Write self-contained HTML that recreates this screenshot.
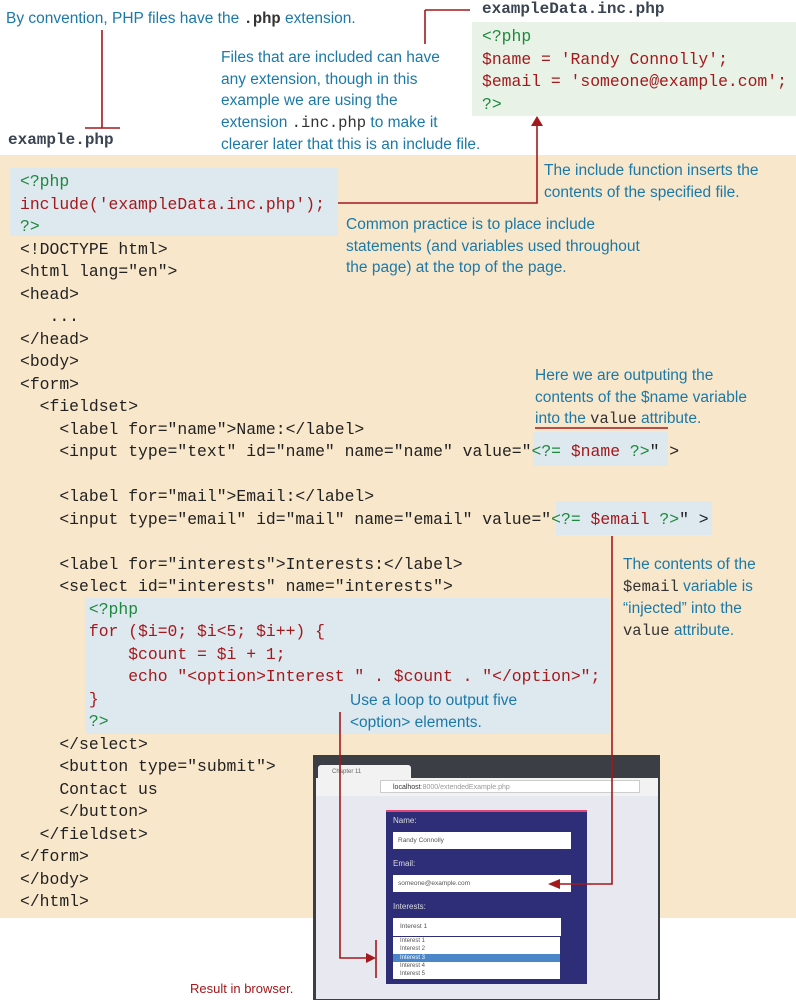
<!DOCTYPE html>
<html><head><meta charset="utf-8"><style>
body{margin:0;width:796px;height:1000px;position:relative;background:#fff;overflow:hidden;font-family:"Liberation Sans",sans-serif}
.a{position:absolute}
.t{position:absolute;color:#1b79a8;font-size:15.5px;line-height:21.5px}
.m{font-family:"Liberation Mono",monospace;color:#333}
pre{margin:0;font-family:"Liberation Mono",monospace;font-size:16.4px;line-height:22.5px;color:#222}
.r{color:#a3191c}.g{color:#1c8a3c}
</style></head><body>
<div class="a" style="left:0;top:155px;width:796px;height:763px;background:#f8e7cb"></div>
<div class="a" style="left:10px;top:168px;width:328px;height:68px;background:#dde8ef"></div>
<div class="a" style="left:533px;top:432px;width:135px;height:34px;background:#dde8ef"></div>
<div class="a" style="left:556px;top:501px;width:156px;height:34px;background:#dde8ef"></div>
<div class="a" style="left:85px;top:598px;width:525px;height:136px;background:#dde8ef"></div>
<div class="a" style="left:472px;top:22px;width:324px;height:94px;background:#e8f2e6"></div>

<div class="t" style="left:6px;top:8px">By convention, PHP files have the <span class="m" style="font-weight:bold">.php</span> extension.</div>
<div class="a m" style="left:8px;top:131px;font-size:16px;font-weight:bold;color:#3a4452">example.php</div>
<div class="a m" style="left:482px;top:0px;font-size:16px;font-weight:bold;color:#3a4452">exampleData.inc.php</div>
<div class="t" style="left:221px;top:47px">Files that are included can have<br>any extension, though in this<br>example we are using the<br>extension <span class="m">.inc.php</span> to make it<br>clearer later that this is an include file.</div>
<pre class="a" style="left:482px;top:26px"><span class="g">&lt;?php</span>
<span class="r">$name = 'Randy Connolly';
$email = 'someone@example.com';</span>
<span class="g">?&gt;</span></pre>
<div class="t" style="left:544px;top:160px">The include function inserts the<br>contents of the specified file.</div>
<div class="t" style="left:346px;top:214px">Common practice is to place include<br>statements (and variables used throughout<br>the page) at the top of the page.</div>
<div class="t" style="left:535px;top:365px">Here we are outputing the<br>contents of the $name variable<br>into the <span class="m">value</span> attribute.</div>
<div class="t" style="left:623px;top:554px">The contents of the<br><span class="m">$email</span> variable is<br>“injected” into the<br><span class="m">value</span> attribute.</div>
<div class="t" style="left:350px;top:690px">Use a loop to output five<br>&lt;option&gt; elements.</div>
<div class="a" style="left:190px;top:981px;font-size:13px;color:#a3191c">Result in browser.</div>

<pre class="a" style="left:20px;top:171px"><span class="g">&lt;?php</span>
<span class="r">include('exampleData.inc.php');</span>
<span class="g">?&gt;</span>
&lt;!DOCTYPE html&gt;
&lt;html lang="en"&gt;
&lt;head&gt;
   ...
&lt;/head&gt;
&lt;body&gt;
&lt;form&gt;
  &lt;fieldset&gt;
    &lt;label for="name"&gt;Name:&lt;/label&gt;
    &lt;input type="text" id="name" name="name" value="<span class="g">&lt;?=</span> <span class="r">$name</span> <span class="g">?&gt;</span>" &gt;

    &lt;label for="mail"&gt;Email:&lt;/label&gt;
    &lt;input type="email" id="mail" name="email" value="<span class="g">&lt;?=</span> <span class="r">$email</span> <span class="g">?&gt;</span>" &gt;

    &lt;label for="interests"&gt;Interests:&lt;/label&gt;
    &lt;select id="interests" name="interests"&gt;
       <span class="g">&lt;?php</span>
<span class="r">       for ($i=0; $i&lt;5; $i++) {
           $count = $i + 1;
           echo "&lt;option&gt;Interest " . $count . "&lt;/option&gt;";
       }</span>
       <span class="g">?&gt;</span>
    &lt;/select&gt;
    &lt;button type="submit"&gt;
    Contact us
    &lt;/button&gt;
  &lt;/fieldset&gt;
&lt;/form&gt;
&lt;/body&gt;
&lt;/html&gt;</pre>

<!-- browser -->
<div class="a" style="left:313px;top:755px;width:347px;height:245px;background:#3b3f45"></div>
<div class="a" style="left:318px;top:765px;width:93px;height:14px;background:#f2f2f2;border-radius:3px 3px 0 0;font-size:6px;color:#666;line-height:14px;padding-left:14px;box-sizing:border-box">Chapter 11</div>
<div class="a" style="left:316px;top:778px;width:342px;height:18px;background:#f2f2f2"></div>
<div class="a" style="left:380px;top:780px;width:260px;height:13px;background:#fff;border:1px solid #ccc;font-size:7px;line-height:13px;padding-left:12px;box-sizing:border-box;color:#999"><b style="color:#333;font-weight:normal">localhost</b>:8000/extendedExample.php</div>
<div class="a" style="left:316px;top:796px;width:342px;height:203px;background:#e8e8f0"></div>
<div class="a" style="left:386px;top:810px;width:201px;height:172px;background:#2d2d78;border-top:2px solid #e0457a"></div>
<div class="a" style="left:393px;top:816px;font-size:8px;color:#ddd">Name:</div>
<div class="a" style="left:393px;top:832px;width:178px;height:17px;background:#fff;font-size:6.5px;line-height:17px;padding-left:5px;box-sizing:border-box;color:#555">Randy Connolly</div>
<div class="a" style="left:393px;top:859px;font-size:8px;color:#ddd">Email:</div>
<div class="a" style="left:393px;top:875px;width:178px;height:17px;background:#fff;font-size:6.5px;line-height:17px;padding-left:5px;box-sizing:border-box;color:#555">someone@example.com</div>
<div class="a" style="left:393px;top:902px;font-size:8px;color:#ddd">Interests:</div>
<div class="a" style="left:393px;top:918px;width:168px;height:18px;background:#fff;font-size:6.5px;line-height:18px;padding-left:7px;box-sizing:border-box;color:#555">Interest 1</div>
<div class="a" style="left:393px;top:937px;width:167px;height:42px;background:#fff;font-size:6px;line-height:8.3px;color:#555"><div style="padding-left:7px">Interest 1</div><div style="padding-left:7px">Interest 2</div><div style="padding-left:7px;background:#4a86c8;color:#fff">Interest 3</div><div style="padding-left:7px">Interest 4</div><div style="padding-left:7px">Interest 5</div></div>

<svg class="a" style="left:0;top:0" width="796" height="1000">
<g stroke="#a3191c" stroke-width="1.6" fill="none">
<path d="M102 30V128M85 128H120"/>
<path d="M425 10H470M425 10V44"/>
<path d="M338 203H537V124"/>
<path d="M535 428H668"/>
<path d="M612 536V884H560"/>
<path d="M340 712V958H367"/>
<path d="M376 940V978"/>
</g>
<g fill="#a3191c">
<path d="M537 116L531 126H543Z"/>
<path d="M548 884L560 879V889Z"/>
<path d="M376 958L366 953V963Z"/>
</g>
</svg>
</body></html>
